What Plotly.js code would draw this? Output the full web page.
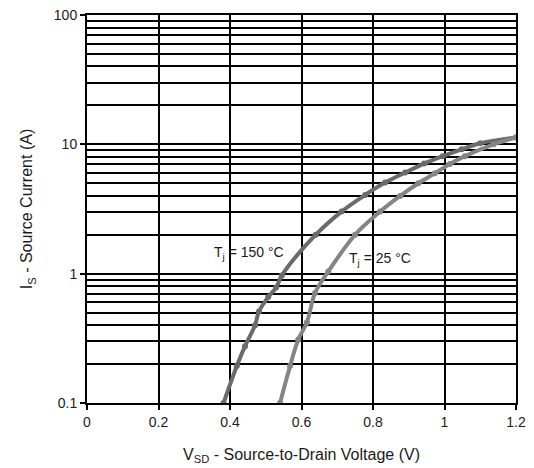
<!DOCTYPE html>
<html>
<head>
<meta charset="utf-8">
<script src="https://cdn.plot.ly/plotly-3.0.1.min.js"></script>
<style>html,body{margin:0;padding:0;background:#fff;}#chart{width:534px;height:468px;}</style>
</head>
<body>
<div id="chart"></div>
<script>
// Tj = 150 °C
const v150 = [0.382, 0.419, 0.442, 0.470, 0.481, 0.507, 0.529, 0.545, 0.640, 0.712, 0.778, 0.834, 0.890, 0.943, 0.995, 1.048, 1.100, 1.200];
const i150 = [0.10, 0.193, 0.275, 0.40, 0.51, 0.66, 0.78, 0.97, 2.0, 3.02, 4.06, 5.06, 6.05, 7.1, 8.1, 9.15, 10.2, 11.3];
// Tj = 25 °C
const v25 = [0.540, 0.568, 0.591, 0.615, 0.638, 0.675, 0.750, 0.820, 0.876, 0.927, 0.973, 1.015, 1.057, 1.137, 1.200];
const i25 = [0.10, 0.193, 0.31, 0.42, 0.71, 1.04, 2.0, 3.02, 3.99, 5.0, 5.97, 7.05, 8.1, 10.0, 11.3];
const xTicks = [0, 0.2, 0.4, 0.6, 0.8, 1, 1.2];
const xTickText = ['0', '0.2', '0.4', '0.6', '0.8', '1', '1.2'];
const yTicks = [0.1, 1, 10, 100];
const yTickText = ['0.1', '1', '10', '100'];
const labels = ['T<sub>j</sub> = 150 °C', 'T<sub>j</sub> = 25 °C'];

const tickFont = {family: 'Liberation Sans, Arial, sans-serif', size: 14, color: '#1a1a1a'};
const titleFont = {family: 'Liberation Sans, Arial, sans-serif', size: 16, color: '#1a1a1a'};

const traces = [
  {x: v150, y: i150, mode: 'lines+markers', line: {color: '#6b6b6b', width: 4, shape: 'spline'},
   marker: {color: '#6b6b6b', size: 6}, hoverinfo: 'skip'},
  {x: v25, y: i25, mode: 'lines+markers', line: {color: '#858585', width: 4, shape: 'spline'},
   marker: {color: '#858585', size: 6}, hoverinfo: 'skip'}
];

const layout = {
  width: 534, height: 468,
  margin: {l: 87, r: 18, t: 15, b: 65},
  paper_bgcolor: '#fff', plot_bgcolor: '#fff',
  showlegend: false,
  font: tickFont,
  xaxis: {
    range: [0, 1.2], tickvals: xTicks, ticktext: xTickText,
    showgrid: true, gridcolor: '#000', gridwidth: 2,
    showline: true, linecolor: '#000', linewidth: 2, mirror: true,
    ticks: 'outside', ticklen: 5, tickwidth: 2, tickcolor: '#000',
    zeroline: false, tickfont: tickFont,
    title: {text: 'V<sub>SD</sub> - Source-to-Drain Voltage (V)', font: titleFont, standoff: 20}
  },
  yaxis: {
    type: 'log', range: [-1, 2], tickvals: yTicks, ticktext: yTickText,
    showgrid: true, gridcolor: '#000', gridwidth: 2,
    minor: {dtick: 'D1', showgrid: true, gridcolor: '#000', gridwidth: 2, ticks: ''},
    showline: true, linecolor: '#000', linewidth: 2, mirror: true,
    ticks: 'outside', ticklen: 5, tickwidth: 2, tickcolor: '#000',
    zeroline: false, tickfont: tickFont,
    title: {text: 'I<sub>S</sub> - Source Current (A)', font: titleFont, standoff: 17}
  },
  annotations: [
    {x: 0.349, y: Math.log10(1.45), xref: 'x', yref: 'y', text: labels[0], showarrow: false,
     xanchor: 'left', yanchor: 'middle', font: tickFont},
    {x: 0.727, y: Math.log10(1.30), xref: 'x', yref: 'y', text: labels[1], showarrow: false,
     xanchor: 'left', yanchor: 'middle', font: tickFont}
  ]
};

Plotly.newPlot('chart', traces, layout, {staticPlot: true, displayModeBar: false});
</script>
</body>
</html>
